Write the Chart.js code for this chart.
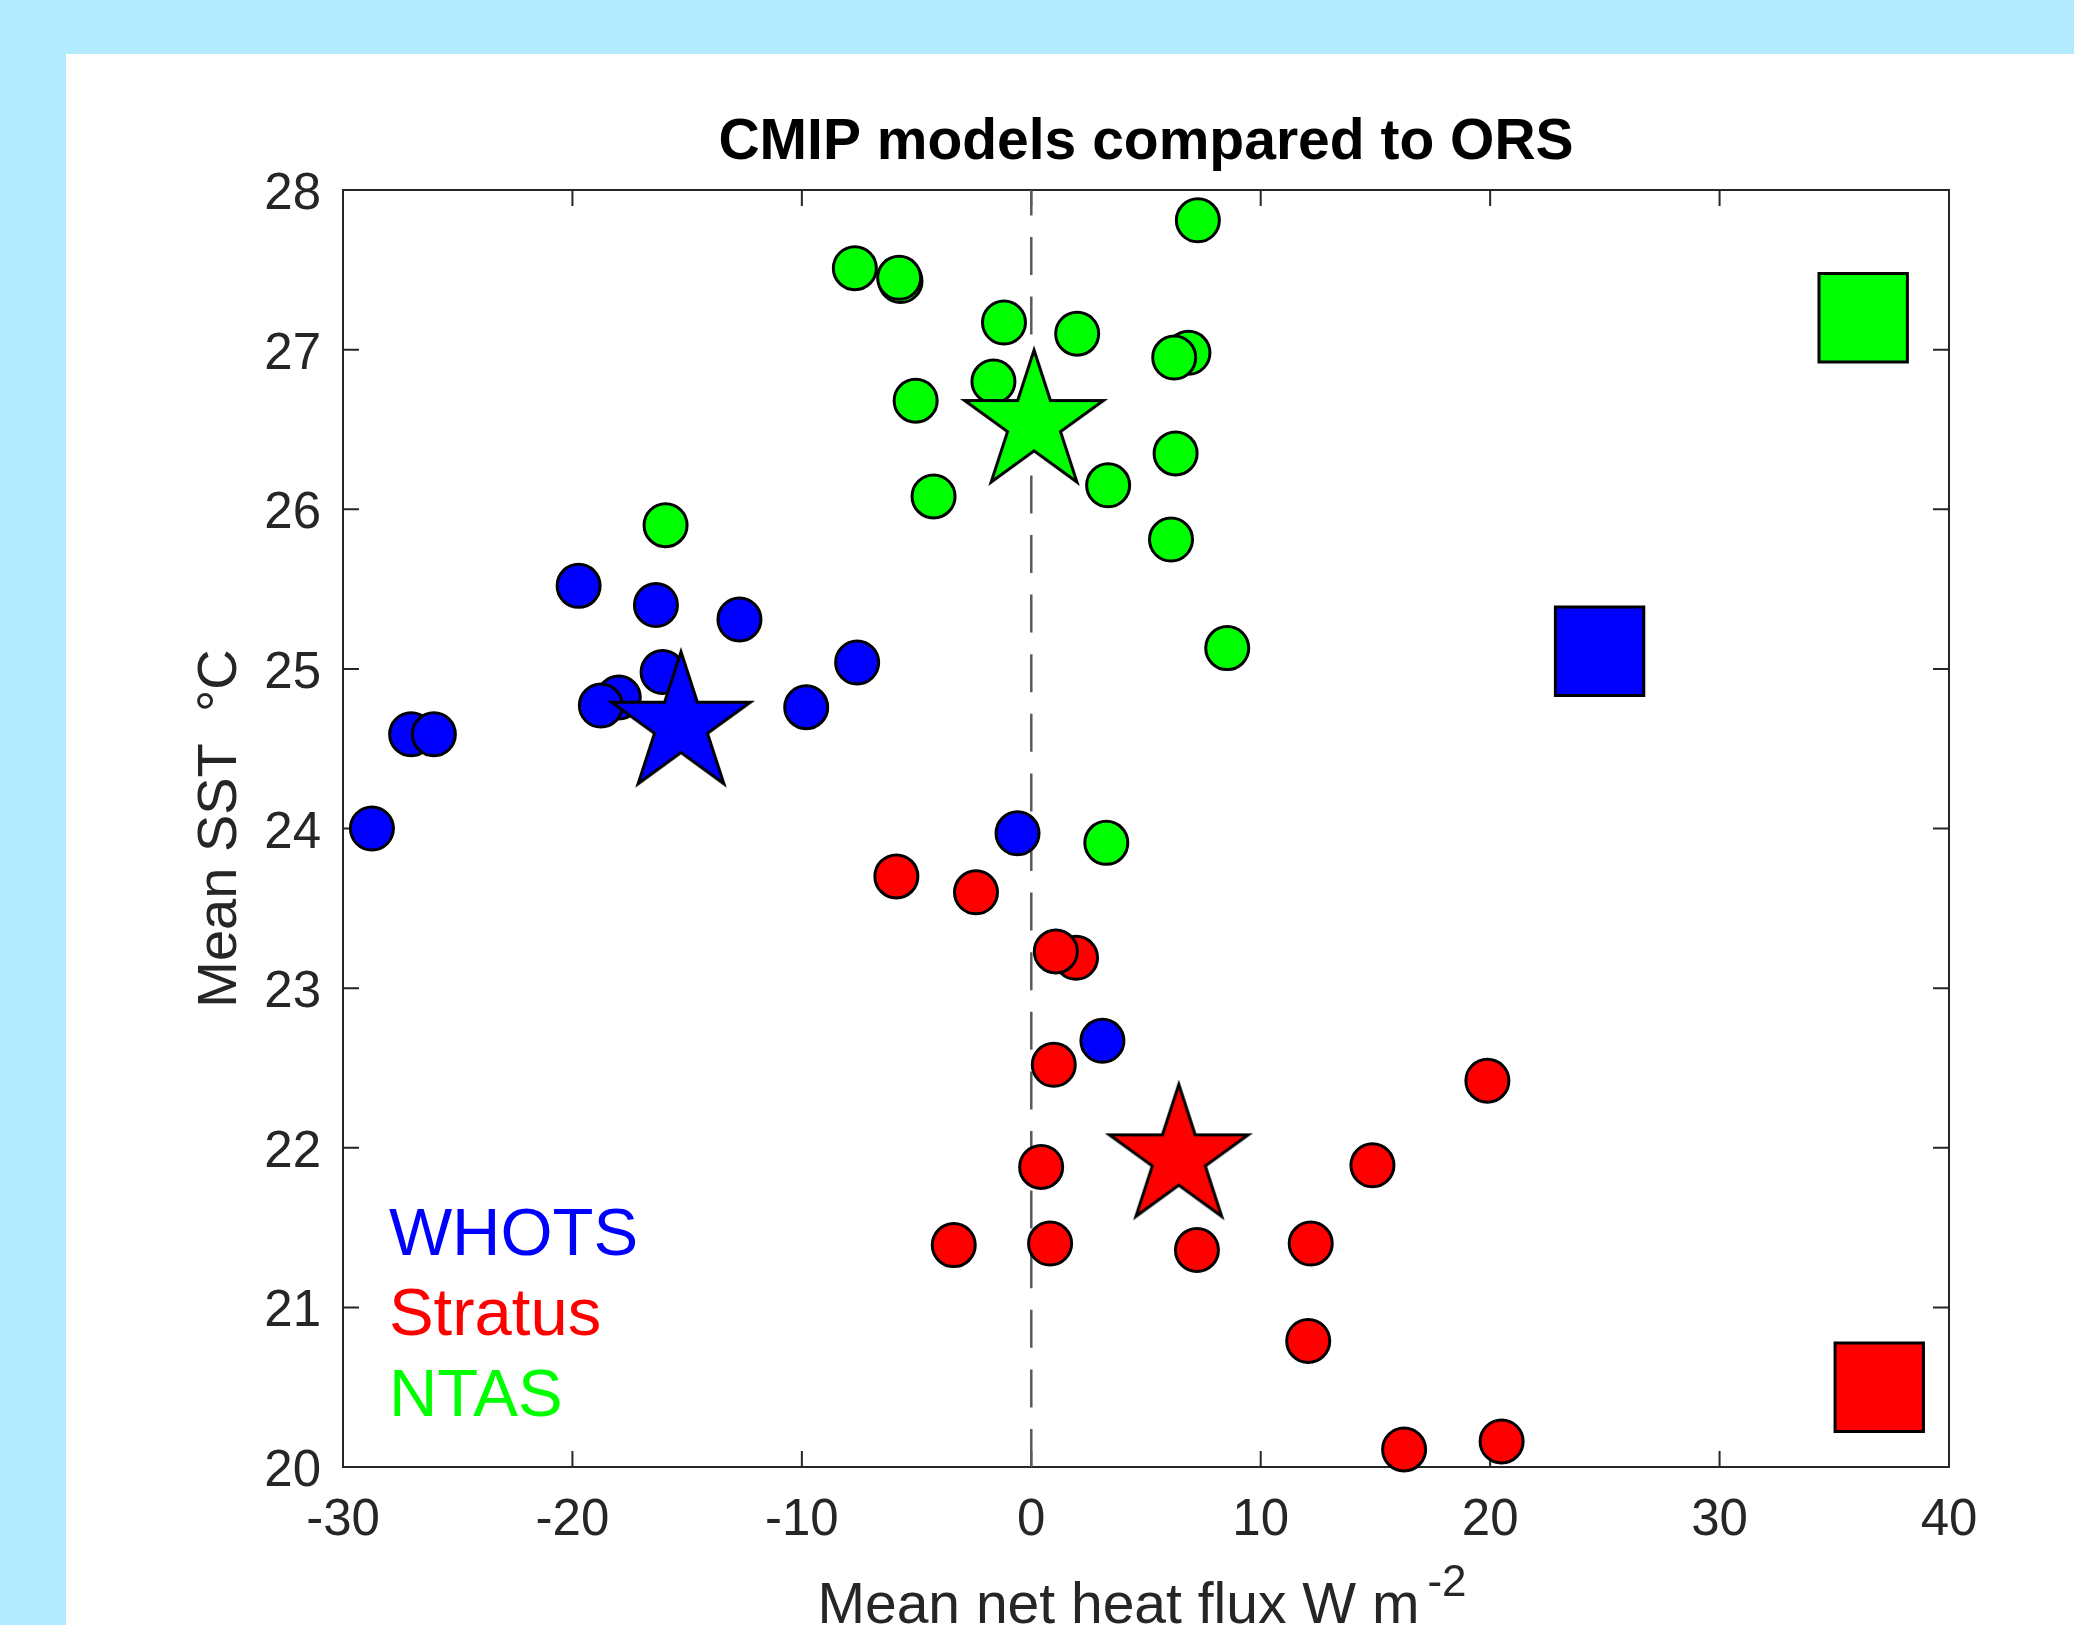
<!DOCTYPE html>
<html>
<head>
<meta charset="utf-8">
<title>CMIP models compared to ORS</title>
<script src="https://cdn.jsdelivr.net/npm/chart.js@4.4.1/dist/chart.umd.min.js"></script>
<style>
  html, body { margin: 0; padding: 0; }
  body { width: 2074px; height: 1625px; background: #b2ebfd; position: relative; overflow: hidden; }
  #panel { position: absolute; left: 66px; top: 54px; right: 0; bottom: 0; background: #ffffff; }
  #chart { position: absolute; left: 0; top: 0; }
</style>
</head>
<body>
<div id="panel"></div>
<canvas id="chart" width="2074" height="1625"></canvas>
<script>
// Stations (order also sets colours)
const stations = ["WHOTS", "Stratus", "NTAS"];
const stationColors = ["#0000ff", "#ff0000", "#00ff00"];

// Axis ticks
const xTicks = [-30, -20, -10, 0, 10, 20, 30, 40];
const yTicks = [20, 21, 22, 23, 24, 25, 26, 27, 28];

// Individual CMIP models (circles): net heat flux (W m-2) and SST (degC)
const whotsFlux = [-19.73, -16.36, -12.72, -16.07, -17.98, -18.76, -27.03, -26.04, -9.81, -7.59, -28.74, -0.6, 3.1];
const whotsSst  = [25.52, 25.40, 25.31, 24.98, 24.82, 24.77, 24.59, 24.59, 24.76, 25.04, 24.00, 23.97, 22.67];

const stratusFlux = [-5.88, -2.41, 1.95, 1.07, 0.98, 0.43, -3.38, 0.82, 7.22, 12.18, 14.87, 12.07, 19.88, 16.25, 20.5];
const stratusSst  = [23.70, 23.60, 23.19, 23.23, 22.52, 21.88, 21.39, 21.40, 21.36, 21.40, 21.89, 20.79, 22.42, 20.11, 20.16];

const ntasFlux = [-15.94, -7.69, -5.70, -5.76, 7.26, -1.19, 2.0, 6.85, 6.23, -1.65, -5.04, 6.29, -4.26, 3.35, 6.09, 8.54, 3.27];
const ntasSst  = [25.90, 27.51, 27.43, 27.45, 27.81, 27.17, 27.10, 26.98, 26.95, 26.80, 26.68, 26.35, 26.08, 26.15, 25.81, 25.13, 23.91];

// Multi-model mean (stars), per station
const meanFlux = [-15.27, 6.43, 0.12];
const meanSst  = [24.65, 21.94, 26.54];

// ORS observations (squares), per station
const orsFlux = [24.77, 36.96, 36.26];
const orsSst  = [25.11, 20.50, 27.20];

const FONT = "'Liberation Sans', Arial, Helvetica, sans-serif";
const AXIS_COLOR = "#262626";
const TICK_LEN = 16;

function toPoints(xs, ys) {
  return xs.map((x, i) => ({ x: x, y: ys[i] }));
}

// Filled pentagram marker (Chart.js 'star' is only an asterisk)
function makeStar(color) {
  const R = 73, r = R * 0.382, pad = 7;
  const c = document.createElement("canvas");
  c.width = c.height = 2 * (R + pad);
  const g = c.getContext("2d");
  const cx = R + pad, cy = R + pad;
  g.beginPath();
  for (let k = 0; k < 10; k++) {
    const rad = k % 2 === 0 ? R : r;
    const a = -Math.PI / 2 + k * Math.PI / 5;
    const px = cx + rad * Math.cos(a), py = cy + rad * Math.sin(a);
    if (k === 0) g.moveTo(px, py); else g.lineTo(px, py);
  }
  g.closePath();
  g.fillStyle = color;
  g.fill();
  g.lineWidth = 3;
  g.lineJoin = "miter";
  g.strokeStyle = "#000000";
  g.stroke();
  return c;
}

const modelFlux = [whotsFlux, stratusFlux, ntasFlux];
const modelSst = [whotsSst, stratusSst, ntasSst];

const datasets = [];
// stars on top
stations.forEach((s, i) => {
  datasets.push({
    label: s + " model mean",
    data: [{ x: meanFlux[i], y: meanSst[i] }],
    pointStyle: makeStar(stationColors[i]),
    pointRadius: 73,
    clip: false
  });
});
// observation squares
stations.forEach((s, i) => {
  datasets.push({
    label: s + " ORS",
    data: [{ x: orsFlux[i], y: orsSst[i] }],
    pointStyle: "rect",
    pointRadius: 62.5,
    backgroundColor: stationColors[i],
    borderColor: "#000000",
    borderWidth: 3,
    clip: false
  });
});
// model circles
stations.forEach((s, i) => {
  datasets.push({
    label: s + " CMIP",
    data: toPoints(modelFlux[i], modelSst[i]),
    pointStyle: "circle",
    pointRadius: 21.5,
    backgroundColor: stationColors[i],
    borderColor: "#000000",
    borderWidth: 3,
    clip: false
  });
});
// zero line at the bottom
datasets.push({
  label: "zero",
  type: "line",
  data: [{ x: 0, y: yTicks[0] }, { x: 0, y: yTicks[yTicks.length - 1] }],
  borderColor: "#5a5a5a",
  borderWidth: 2.5,
  borderDash: [38, 21.6],
  pointRadius: 0,
  fill: false
});

// box, inward ticks, x label with superscript, station labels
const matlabAxes = {
  id: "matlabAxes",
  beforeDatasetsDraw(chart) {
    const { ctx, chartArea: a, scales: { x, y } } = chart;
    ctx.save();
    ctx.strokeStyle = AXIS_COLOR;
    ctx.lineWidth = 2;
    ctx.strokeRect(a.left, a.top, a.right - a.left, a.bottom - a.top);
    ctx.beginPath();
    xTicks.forEach(v => {
      const px = x.getPixelForValue(v);
      ctx.moveTo(px, a.bottom); ctx.lineTo(px, a.bottom - TICK_LEN);
      ctx.moveTo(px, a.top); ctx.lineTo(px, a.top + TICK_LEN);
    });
    yTicks.forEach(v => {
      const py = y.getPixelForValue(v);
      ctx.moveTo(a.left, py); ctx.lineTo(a.left + TICK_LEN, py);
      ctx.moveTo(a.right, py); ctx.lineTo(a.right - TICK_LEN, py);
    });
    ctx.stroke();
    ctx.restore();
  },
  afterDraw(chart) {
    const { ctx, chartArea: a, scales: { x, y } } = chart;
    ctx.save();

    // x axis label: "Mean net heat flux W m^-2"
    const main = "Mean net heat flux W m";
    const sup = "-2";
    ctx.fillStyle = AXIS_COLOR;
    ctx.textBaseline = "alphabetic";
    ctx.textAlign = "left";
    ctx.font = "57px " + FONT;
    const wMain = ctx.measureText(main).width;
    ctx.font = "44px " + FONT;
    const wSup = ctx.measureText(sup).width;
    const gap = 8;
    const start = (a.left + a.right) / 2 - (wMain + gap + wSup) / 2 - 4;
    const base = 1623;
    ctx.font = "57px " + FONT;
    ctx.fillText(main, start, base);
    ctx.font = "44px " + FONT;
    ctx.fillText(sup, start + wMain + gap, base - 27);

    // station names
    ctx.font = "67px " + FONT;
    const lx = x.getPixelForValue(-28.0);
    const baselines = [21.33, 20.83, 20.32];
    stations.forEach((s, i) => {
      ctx.fillStyle = stationColors[i];
      ctx.fillText(s, lx, y.getPixelForValue(baselines[i]));
    });
    ctx.restore();
  }
};

new Chart(document.getElementById("chart"), {
  type: "scatter",
  data: { datasets: datasets },
  plugins: [matlabAxes],
  options: {
    responsive: false,
    animation: false,
    events: [],
    layout: { padding: { left: 0, right: 125, top: 0, bottom: 0 } },
    plugins: {
      legend: { display: false },
      tooltip: { enabled: false },
      title: {
        display: true,
        text: "CMIP models compared to ORS",
        fullSize: false,
        color: "#000000",
        font: { family: FONT, size: 57, weight: "bold", lineHeight: 1.2 },
        padding: { top: 109, bottom: 12.6 }
      }
    },
    scales: {
      x: {
        type: "linear",
        min: xTicks[0],
        max: xTicks[xTicks.length - 1],
        afterBuildTicks: s => { s.ticks = xTicks.map(v => ({ value: v })); },
        afterFit: s => { s.height = 158; },
        grid: { display: false, drawTicks: false },
        border: { display: false },
        ticks: {
          color: AXIS_COLOR,
          font: { family: FONT, size: 51 },
          padding: 23,
          maxRotation: 0,
          autoSkip: false,
          labelOffset: c => (c.tick && c.tick.value < 0 ? -4 : 0)
        }
      },
      y: {
        type: "linear",
        min: yTicks[0],
        max: yTicks[yTicks.length - 1],
        afterBuildTicks: s => { s.ticks = yTicks.map(v => ({ value: v })); },
        afterFit: s => { s.width = 343; },
        grid: { display: false, drawTicks: false },
        border: { display: false },
        ticks: {
          color: AXIS_COLOR,
          font: { family: FONT, size: 51 },
          padding: 22,
          labelOffset: 5,
          autoSkip: false
        },
        title: {
          display: true,
          text: "Mean SST  \u00B0C",
          color: AXIS_COLOR,
          font: { family: FONT, size: 56, lineHeight: 1.2 },
          padding: { top: 187, bottom: 0 }
        }
      }
    }
  }
});
</script>
</body>
</html>
